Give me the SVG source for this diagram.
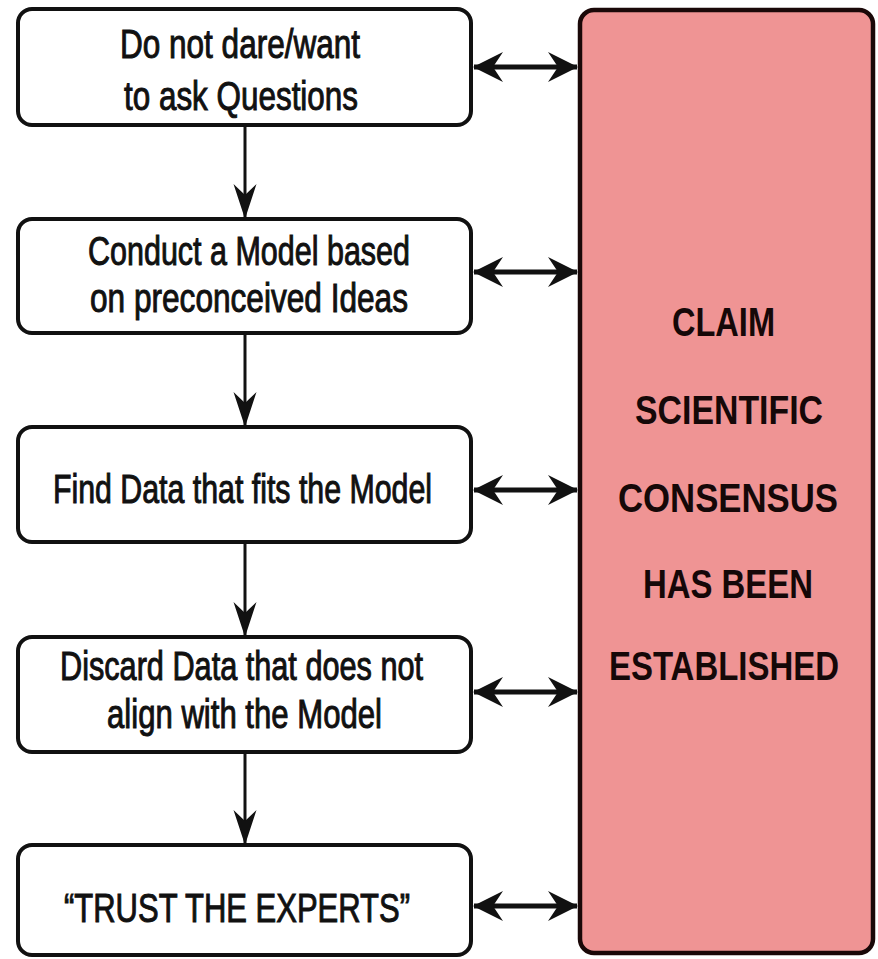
<svg xmlns="http://www.w3.org/2000/svg" width="878" height="959" viewBox="0 0 878 959">
<style>
.box{fill:#fff;stroke:#111;stroke-width:4}
.claim{fill:#ef9494;stroke:#1a0808;stroke-width:4.5}
.t{font-family:"Liberation Sans",Arial,sans-serif;font-size:40px;fill:#111;stroke:#111;stroke-width:1}
.c{font-family:"Liberation Sans",Arial,sans-serif;font-size:41px;font-weight:bold;fill:#150808}
.ln{stroke:#111;stroke-width:3;fill:none}
.lh{stroke:#111;stroke-width:5;fill:none}
</style>
<defs>
<marker id="av" markerUnits="userSpaceOnUse" viewBox="-36 -14 38 28" refX="0" refY="0" markerWidth="38" markerHeight="28" orient="auto">
<path d="M1,0 L-34,-11.5 L-23,0 L-34,11.5 Z" fill="#111"/>
</marker>
<marker id="ah" markerUnits="userSpaceOnUse" viewBox="-32 -17 34 34" refX="0" refY="0" markerWidth="34" markerHeight="34" orient="auto-start-reverse">
<path d="M1,0 L-29,-15 L-19,0 L-29,15 Z" fill="#111"/>
</marker>
</defs>
<rect width="878" height="959" fill="#fff"/>
<g id="claim">
<rect class="claim" x="580" y="10" width="293" height="943" rx="14"/>
<text class="c" transform="translate(672,336) scale(0.82,1)" textLength="125.6" lengthAdjust="spacingAndGlyphs">CLAIM</text>
<text class="c" transform="translate(635,424) scale(0.82,1)" textLength="229.3" lengthAdjust="spacingAndGlyphs">SCIENTIFIC</text>
<text class="c" transform="translate(618,512) scale(0.82,1)" textLength="268.3" lengthAdjust="spacingAndGlyphs">CONSENSUS</text>
<text class="c" transform="translate(643,598) scale(0.82,1)" textLength="207.3" lengthAdjust="spacingAndGlyphs">HAS BEEN</text>
<text class="c" transform="translate(609,680) scale(0.82,1)" textLength="280.5" lengthAdjust="spacingAndGlyphs">ESTABLISHED</text>
</g>
<g id="n1">
<rect class="box" x="18" y="9" width="453" height="116" rx="14"/>
<text class="t" x="120" y="58" textLength="240" lengthAdjust="spacingAndGlyphs">Do not dare/want</text>
<text class="t" x="124" y="110" textLength="234" lengthAdjust="spacingAndGlyphs">to ask Questions</text>
</g>
<g id="n2">
<rect class="box" x="18" y="219" width="453" height="114" rx="14"/>
<text class="t" x="88" y="265" textLength="322" lengthAdjust="spacingAndGlyphs">Conduct a Model based</text>
<text class="t" x="90" y="312" textLength="318" lengthAdjust="spacingAndGlyphs">on preconceived Ideas</text>
</g>
<g id="n3">
<rect class="box" x="18" y="427" width="453" height="115" rx="14"/>
<text class="t" x="53" y="503" textLength="379" lengthAdjust="spacingAndGlyphs">Find Data that fits the Model</text>
</g>
<g id="n4">
<rect class="box" x="18" y="637" width="453" height="115" rx="14"/>
<text class="t" x="60" y="680" textLength="363" lengthAdjust="spacingAndGlyphs">Discard Data that does not</text>
<text class="t" x="107" y="728" textLength="275" lengthAdjust="spacingAndGlyphs">align with the Model</text>
</g>
<g id="n5">
<rect class="box" x="18" y="845" width="453" height="110" rx="14"/>
<text class="t" x="64" y="922" textLength="346" lengthAdjust="spacingAndGlyphs">“TRUST THE EXPERTS”</text>
</g>
<g id="connectors">
<line class="ln" x1="245" y1="125" x2="245" y2="218" marker-end="url(#av)"/>
<line class="ln" x1="245" y1="333" x2="245" y2="426" marker-end="url(#av)"/>
<line class="ln" x1="245" y1="542" x2="245" y2="636" marker-end="url(#av)"/>
<line class="ln" x1="245" y1="752" x2="245" y2="844" marker-end="url(#av)"/>
<line class="lh" x1="474" y1="67" x2="577" y2="67" marker-start="url(#ah)" marker-end="url(#ah)"/>
<line class="lh" x1="474" y1="272" x2="577" y2="272" marker-start="url(#ah)" marker-end="url(#ah)"/>
<line class="lh" x1="474" y1="490" x2="577" y2="490" marker-start="url(#ah)" marker-end="url(#ah)"/>
<line class="lh" x1="474" y1="692" x2="577" y2="692" marker-start="url(#ah)" marker-end="url(#ah)"/>
<line class="lh" x1="474" y1="906" x2="577" y2="906" marker-start="url(#ah)" marker-end="url(#ah)"/>
</g>
</svg>
